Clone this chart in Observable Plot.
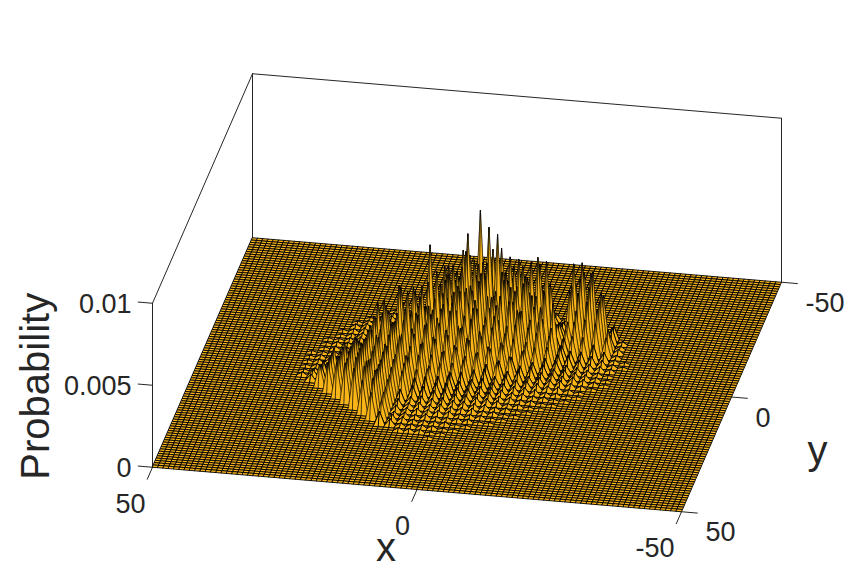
<!DOCTYPE html>
<html><head><meta charset="utf-8">
<script src="https://cdn.jsdelivr.net/npm/d3@7"></script>
<script src="https://cdn.jsdelivr.net/npm/@observablehq/plot@0.6"></script>
<style>html,body{margin:0;padding:0;background:#fff}svg{display:block}</style>
</head><body><div id="chart"></div>
<script>
// Axis ticks
const xTicks = [50, 0, -50];
const yTicks = [-50, 0, 50];
const zTicks = [0, 0.005, 0.01];
const zTickLabels = ["0", "0.005", "0.01"];
// Probability, unit 1e-4, on the sites where x and y are both even.
// Row k is y = -30 + 2k; entry c of a row is column firstCol[k] + c; column n is x = 30 - 2n.
const firstCol = [13,10,8,6,5,4,3,3,2,2,1,1,1,0,0,0,0,0,0,1,2,3,4,5,6,7,8,9,11,14];
const rowHeights = [
[1,3,4,2,1],
[2,6,35,10,22,14,12,9,6,4,2],
[1,3,6,16,24,20,34,40,26,30,18,12,8,4,2],
[1,2,3,4,10,30,24,38,66,30,44,26,34,18,20,6,3,26,12],
[1,2,3,4,5,14,28,30,54,36,59,28,42,20,40,26,8,5,41,36,16,4],
[1,2,3,3,4,8,16,36,28,46,32,40,58,30,44,24,42,30,6,30,45,40,26,8],
[1,2,3,3,4,6,10,28,22,40,24,44,34,26,38,30,36,49,24,10,30,38,42,30,10,2],
[2,3,3,4,5,8,14,54,30,24,42,28,46,26,36,30,40,28,50,12,14,32,36,28,8,2],
[1,2,3,3,4,5,10,20,34,28,40,30,34,42,28,44,26,38,24,34,10,12,24,30,26,14,3],
[1,2,3,4,4,6,16,30,22,44,28,36,26,40,24,32,38,24,34,20,30,10,20,22,20,12,2],
[1,1,2,3,3,4,8,26,36,24,30,42,24,38,26,34,20,32,26,22,30,18,8,14,14,10,6,2,1],
[1,2,2,3,3,6,18,38,24,40,26,30,38,24,34,24,32,20,30,20,24,16,10,8,8,6,4,2,1],
[1,2,2,3,4,30,26,42,26,36,26,30,34,20,32,22,28,18,24,14,20,12,8,8,6,4,3,2],
[1,1,2,2,3,6,24,32,28,42,28,34,24,32,22,28,18,24,14,18,12,14,8,7,5,4,3,2,1],
[1,2,2,3,4,10,28,38,26,34,32,26,30,20,26,18,24,14,18,10,14,8,7,5,5,4,3,2,1],
[1,2,3,4,6,14,22,32,28,30,22,28,20,26,16,22,14,18,10,13,8,8,5,5,4,4,3,2,1],
[1,2,3,5,10,18,28,26,30,24,28,20,24,16,20,14,16,10,12,7,8,5,5,4,4,3,2,1],
[1,2,4,10,16,22,28,24,26,26,20,22,16,18,12,14,9,10,6,7,5,5,4,3,3,2,1],
[2,4,10,18,22,26,26,28,22,24,16,18,12,14,9,10,6,7,5,5,4,4,3,2,2,1,1],
[4,10,18,22,26,28,24,26,20,20,12,13,9,10,7,7,5,5,4,3,3,2,2,1,1],
[13,18,22,26,28,24,24,20,18,10,11,8,8,6,6,4,5,3,3,2,2,1,1],
[17,22,26,28,22,22,18,16,8,8,6,7,5,5,4,4,3,2,2,1,1],
[21,24,28,24,22,16,8,4,5,4,5,4,4,3,3,2,2,1,1],
[24,28,26,22,16,5,3,4,3,4,3,3,3,2,2,1,1],
[24,26,24,14,4,3,3,3,3,3,2,2,2,1,1],
[20,22,14,3,3,2,3,2,2,2,2,1,1],
[16,12,4,3,2,2,2,2,1,1],
[8,4,2,2,2,2,1,1],
[2,2,2,1,1],
[1]
];

// Fixed view of the MATLAB-style box: map (x, y, z) to the plot's horizontal and vertical scales.
const px = (x, y) => 466.5 - 5.29 * x - y;
const py = (x, y, z = 0) => 374.25 - 0.445 * x + 2.295 * y - 16400 * z;

const heightAt = new Map();
rowHeights.forEach((row, k) => row.forEach((h, c) => {
  heightAt.set(`${30 - 2 * (firstCol[k] + c)},${-30 + 2 * k}`, h * 1e-4);
}));
const zAt = (x, y) => heightAt.get(`${x},${y}`) || 0;

// Mesh cells, back to front; the floor and low hills carry a heavier line than the tall faces.
const grid = d3.range(-50, 50);
const cells = [];
let id = 0;
for (const y of grid) for (const x of grid.map(d => -d)) {
  const corners = [[x, y], [x - 1, y], [x - 1, y + 1], [x, y + 1]].map(([a, b]) => ({id, x: a, y: b, z: zAt(a, b)}));
  const w = d3.max(corners, d => d.z) < 0.0012 ? 0.9 : 0.55;
  cells.push(...corners.map(d => ({...d, w})));
  id++;
}

const seg = (a, b) => [a, b].map(([x, y, z]) => ({x, y, z}));
const boxEdges = [
  seg([50, -50, 0], [50, -50, 0.01]),
  seg([50, -50, 0.01], [-50, -50, 0.01]),
  seg([-50, -50, 0], [-50, -50, 0.01]),
  seg([50, 50, 0], [50, 50, 0.01]),
  seg([50, 50, 0.01], [50, -50, 0.01]),
  ...xTicks.map(t => seg([t, 50, 0], [t, 55.2, 0])),
  ...yTicks.map(t => seg([-50, t, 0], [-53, t, 0])),
  ...zTicks.map(t => seg([50, 50, t], [52.7, 50, t]))
].flatMap((s, i) => s.map(d => ({...d, i})));

const ink = "#262626";
const font = "Liberation Sans, Arial, sans-serif";
const plot = Plot.plot({
  width: 866, height: 573, margin: 0,
  x: {domain: [0, 866], range: [0, 866], axis: null},
  y: {domain: [0, 573], range: [0, 573], axis: null},
  style: {background: "#fff", fontFamily: font},
  marks: [
    Plot.line(boxEdges, {x: d => px(d.x, d.y), y: d => py(d.x, d.y, d.z), z: "i", stroke: ink, strokeWidth: 1}),
    Plot.line(cells, {
      x: d => px(d.x, d.y), y: d => py(d.x, d.y, d.z), z: "id",
      curve: "linear-closed", fill: "#f9b418", stroke: "#000", strokeWidth: "w"
    }),
    Plot.text(xTicks, {x: t => px(t, 50), y: t => py(t, 50), text: d => String(d), fill: ink, fontSize: 27, textAnchor: "end", dx: -7, dy: 37}),
    Plot.text(yTicks, {x: t => px(-50, t), y: t => py(-50, t), text: d => String(d), fill: ink, fontSize: 27, textAnchor: "start", dx: 24, dy: 21}),
    Plot.text(zTicks, {x: () => px(50, 50), y: t => py(50, 50, t), text: (d, i) => zTickLabels[i], fill: ink, fontSize: 27, textAnchor: "end", dx: -21, dy: 1}),
    Plot.text(["x"], {x: () => px(0, 50), y: () => py(0, 50), fill: ink, fontSize: 40, textAnchor: "middle", dx: -31, dy: 59}),
    Plot.text(["y"], {x: () => px(-50, 0), y: () => py(-50, 0), fill: ink, fontSize: 40, textAnchor: "middle", dx: 86, dy: 54}),
    Plot.text(["Probability"], {x: () => px(50, 50), y: () => py(50, 50, 0.005), fill: ink, fontSize: 40, textAnchor: "middle", rotate: -90, dx: -116, dy: 1})
  ]
});
document.getElementById("chart").append(plot);
</script></body></html>
